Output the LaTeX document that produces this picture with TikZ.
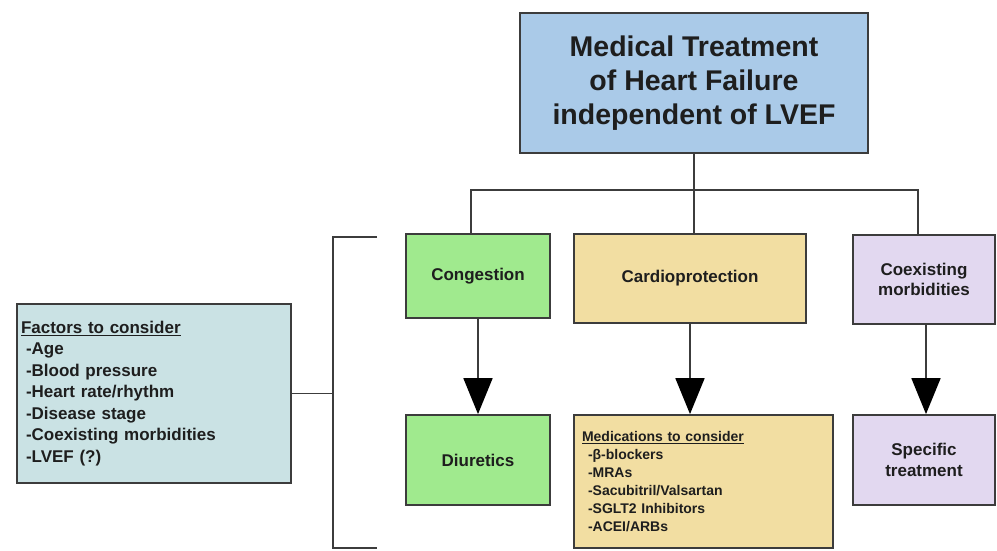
\documentclass[tikz,border=0pt]{standalone}
\usepackage{fontspec}
\setmainfont{Liberation Sans}
\usetikzlibrary{arrows.meta}
\definecolor{topblue}{RGB}{170,202,232}
\definecolor{cgreen}{RGB}{160,234,142}
\definecolor{ctan}{RGB}{242,222,162}
\definecolor{clav}{RGB}{226,216,240}
\definecolor{cteal}{RGB}{202,226,228}
\definecolor{edge}{RGB}{60,60,60}
\definecolor{ink}{RGB}{30,30,30}
\begin{document}
\begin{tikzpicture}[x=1pt,y=-1pt,
  box/.style={draw=edge,line width=1.8pt,inner sep=0pt,text=ink,align=center,
    font=\bfseries\fontsize{17}{20.5}\selectfont},
  conn/.style={draw=edge,line width=1.8pt},
  arr/.style={conn,-{Triangle[width=29pt,length=36pt,fill=black,color=black]}}]
\useasboundingbox (0,0) rectangle (997,550);
\node[box,fill=topblue,minimum width=348pt,minimum height=140pt,
  font=\bfseries\fontsize{28.5}{34}\selectfont] (top) at (694,83)
  {Medical Treatment\\of Heart Failure\\independent of LVEF};
\node[box,fill=cgreen,minimum width=144pt,minimum height=84pt] (cong) at (478,276) {Congestion};
\node[box,fill=ctan,minimum width=232pt,minimum height=89pt] (card) at (690,278.5) {Cardioprotection};
\node[box,fill=clav,minimum width=142pt,minimum height=89pt] (coex) at (924,279.5) {Coexisting\\morbidities};
\node[box,fill=cgreen,minimum width=144pt,minimum height=90pt] (diur) at (478,460) {Diuretics};
\node[box,fill=ctan,minimum width=259pt,minimum height=133pt,text width=243pt,align=left,
  inner xsep=8pt,font=\bfseries\fontsize{14}{18}\selectfont] (meds) at (703.5,481.5)
  {\underline{Medications to consider}\\
   \hspace*{6pt}-β-blockers\\
   \hspace*{6pt}-MRAs\\
   \hspace*{6pt}-Sacubitril/Valsartan\\
   \hspace*{6pt}-SGLT2 Inhibitors\\
   \hspace*{6pt}-ACEI/ARBs};
\node[box,fill=clav,minimum width=142pt,minimum height=90pt] (spec) at (924,460) {Specific\\treatment};
\node[box,fill=cteal,minimum width=274pt,minimum height=179pt,text width=266pt,align=left,
  inner xsep=4pt,font=\bfseries\fontsize{17}{21.5}\selectfont] (fact) at (154,393.5)
  {\underline{Factors to consider}\\
   \hspace*{5pt}-Age\\
   \hspace*{5pt}-Blood pressure\\
   \hspace*{5pt}-Heart rate/rhythm\\
   \hspace*{5pt}-Disease stage\\
   \hspace*{5pt}-Coexisting morbidities\\
   \hspace*{5pt}-LVEF (?)};
% tree connectors
\coordinate (bar) at (694,190);
\draw[conn] (top.south) -- (top.south |- card.north);
\draw[conn] ([xshift=-7pt]cong.north) |- ([xshift=-6pt]coex.north |- bar) -- ([xshift=-6pt]coex.north);
% arrows
\draw[arr] (cong.south) -- (diur.north);
\draw[arr] (card.south) -- (card.south |- meds.north);
\draw[arr] ([xshift=2pt]coex.south) -- ([xshift=2pt]spec.north);
% bracket
\coordinate (bt) at (377,237);
\coordinate (bb) at (377,548);
\coordinate (bx) at (333,393.5);
\draw[conn] (bt) -| (bx) |- (bb);
\draw[conn] (fact.east) -- (bx);
\end{tikzpicture}
\end{document}
